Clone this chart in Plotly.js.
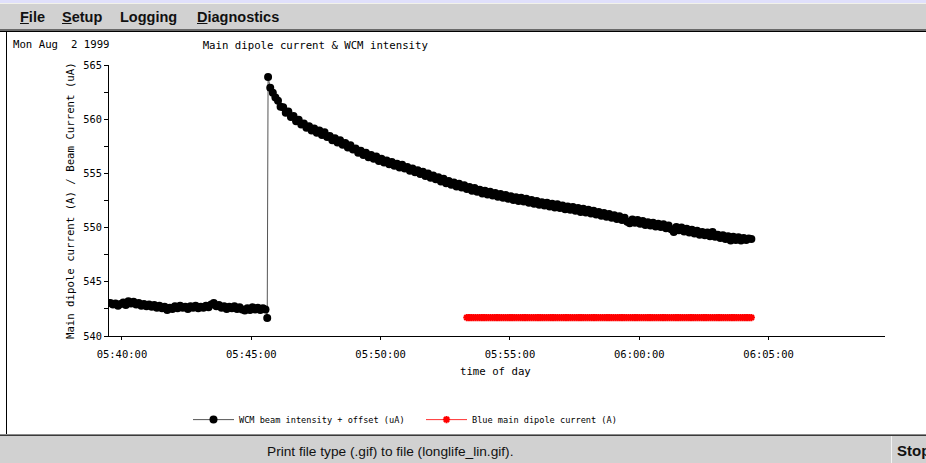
<!DOCTYPE html>
<html>
<head>
<meta charset="utf-8">
<script src="https://cdn.plot.ly/plotly-3.0.1.min.js"></script>
<style>
  html, body { margin:0; padding:0; width:926px; height:463px; overflow:hidden; background:#ffffff; }
  .abs { position:absolute; }
  #strip { left:0; top:0; width:926px; height:3px; background:#e0e0fb; }
  #menubar { left:0; top:3px; width:926px; height:25px; background:#d1d1d1; border-top:1px solid #f2f2ea; }
  #menuline1 { left:0; top:29px; width:926px; height:2px; background:#6a6a6a; }
  #menuline2 { left:0; top:31px; width:926px; height:1px; background:#000; }
  #panelborder { left:6px; top:31px; width:1px; height:404px; background:#000; }
  .menu { font-family:"Liberation Sans", Arial, sans-serif; font-weight:bold; font-size:14.5px; line-height:14.5px; color:#111; top:9.5px; white-space:nowrap; }
  #status1 { left:0; top:434px; width:926px; height:1px; background:#8a8a8a; }
  #status2 { left:0; top:435px; width:926px; height:1px; background:#3a3a3a; }
  #statusbar { left:0; top:436px; width:926px; height:27px; background:#d1d1d1; }
  #stopbtn { left:891px; top:436px; width:35px; height:27px; border-left:1px solid #f4f4f4; }
  #statustext { left:267px; top:444.5px; font-family:"Liberation Sans", Arial, sans-serif; font-size:13.7px; line-height:13.7px; color:#111; white-space:nowrap; }
  #stoptext { left:897px; top:443.3px; font-family:"Liberation Sans", Arial, sans-serif; font-weight:bold; font-size:15px; line-height:15px; color:#111; white-space:nowrap; }
  #chart { position:absolute; left:0; top:0; width:926px; height:463px; }
</style>
</head>
<body>
<div class="abs" id="strip"></div>
<div class="abs" id="menubar"></div>
<div class="abs" id="menuline1"></div>
<div class="abs" id="menuline2"></div>
<div class="abs menu" style="left:20px"><u>F</u>ile</div>
<div class="abs menu" style="left:62px"><u>S</u>etup</div>
<div class="abs menu" style="left:120px">Logging</div>
<div class="abs menu" style="left:197px"><u>D</u>iagnostics</div>
<div class="abs" id="panelborder"></div>
<div class="abs" id="status1"></div>
<div class="abs" id="status2"></div>
<div class="abs" id="statusbar"></div>
<div class="abs" id="stopbtn"></div>
<div class="abs" id="statustext">Print file type (.gif) to file (longlife_lin.gif).</div>
<div class="abs" id="stoptext">Stop</div>
<div id="chart"></div>
<script>
// ---- data ----
const day = '1999-08-02';
const chartTitle = 'Main dipole current & WCM intensity';
const dateLabel = 'Mon Aug\u00a0\u00a02 1999';
const xAxisTitle = 'time of day';
const yAxisTitle = 'Main dipole current (A) / Beam Current (uA)';
const wcmName = 'WCM beam intensity + offset (uA)';
const dipoleName = 'Blue main dipole current (A)';

// WCM samples before the injection step
const wcmTimesBefore = [
 '05:39:33','05:39:39','05:39:45','05:39:51','05:39:57',
 '05:40:03','05:40:09','05:40:15','05:40:21','05:40:27','05:40:33','05:40:39','05:40:45','05:40:51','05:40:57',
 '05:41:03','05:41:09','05:41:15','05:41:21','05:41:27','05:41:33','05:41:39','05:41:45','05:41:51','05:41:57',
 '05:42:03','05:42:09','05:42:15','05:42:21','05:42:27','05:42:33','05:42:39','05:42:45','05:42:51','05:42:57',
 '05:43:03','05:43:09','05:43:15','05:43:21','05:43:27','05:43:33','05:43:39','05:43:45','05:43:51','05:43:57',
 '05:44:03','05:44:09','05:44:15','05:44:21','05:44:27','05:44:33','05:44:39','05:44:45','05:44:51','05:44:57',
 '05:45:03','05:45:09','05:45:15','05:45:21','05:45:27','05:45:33','05:45:37'
];
const wcmValuesBefore = [
 543.05,542.9,543.0,542.8,542.95,
 543.1,542.85,543.2,543.0,543.15,542.9,543.05,542.8,542.95,542.75,
 542.9,542.7,542.85,542.6,542.8,542.55,542.7,542.4,542.6,542.5,
 542.75,542.55,542.8,542.6,542.7,542.5,542.75,542.6,542.8,542.55,
 542.7,542.6,542.8,542.65,542.9,543.05,542.75,542.85,542.6,542.75,
 542.5,542.7,542.55,542.75,542.5,542.65,542.45,542.35,542.55,542.4,
 542.65,542.45,542.6,542.4,542.55,542.45,541.65
];
// WCM samples after the injection step
const wcmTimesAfter = [
 '05:45:39','05:45:44','05:45:50','05:45:56',
 '05:46:02','05:46:08','05:46:14','05:46:20','05:46:26','05:46:32','05:46:38','05:46:44','05:46:50','05:46:56',
 '05:47:02','05:47:08','05:47:14','05:47:20','05:47:26','05:47:32','05:47:38','05:47:44','05:47:50','05:47:56',
 '05:48:02','05:48:08','05:48:14','05:48:20','05:48:26','05:48:32','05:48:38','05:48:44','05:48:50','05:48:56',
 '05:49:02','05:49:08','05:49:14','05:49:20','05:49:26','05:49:32','05:49:38','05:49:44','05:49:50','05:49:56',
 '05:50:02','05:50:08','05:50:14','05:50:20','05:50:26','05:50:32','05:50:38','05:50:44','05:50:50','05:50:56',
 '05:51:02','05:51:08','05:51:14','05:51:20','05:51:26','05:51:32','05:51:38','05:51:44','05:51:50','05:51:56',
 '05:52:02','05:52:08','05:52:14','05:52:20','05:52:26','05:52:32','05:52:38','05:52:44','05:52:50','05:52:56',
 '05:53:02','05:53:08','05:53:14','05:53:20','05:53:26','05:53:32','05:53:38','05:53:44','05:53:50','05:53:56',
 '05:54:02','05:54:08','05:54:14','05:54:20','05:54:26','05:54:32','05:54:38','05:54:44','05:54:50','05:54:56',
 '05:55:02','05:55:08','05:55:14','05:55:20','05:55:26','05:55:32','05:55:38','05:55:44','05:55:50','05:55:56',
 '05:56:02','05:56:08','05:56:14','05:56:20','05:56:26','05:56:32','05:56:38','05:56:44','05:56:50','05:56:56',
 '05:57:02','05:57:08','05:57:14','05:57:20','05:57:26','05:57:32','05:57:38','05:57:44','05:57:50','05:57:56',
 '05:58:02','05:58:08','05:58:14','05:58:20','05:58:26','05:58:32','05:58:38','05:58:44','05:58:50','05:58:56',
 '05:59:02','05:59:08','05:59:14','05:59:20','05:59:26','05:59:32','05:59:38','05:59:44','05:59:50','05:59:56',
 '06:00:02','06:00:08','06:00:14','06:00:20','06:00:26','06:00:32','06:00:38','06:00:44','06:00:50','06:00:56',
 '06:01:02','06:01:08','06:01:14','06:01:20','06:01:26','06:01:32','06:01:38','06:01:44','06:01:50','06:01:56',
 '06:02:02','06:02:08','06:02:14','06:02:20','06:02:26','06:02:32','06:02:38','06:02:44','06:02:50','06:02:56',
 '06:03:02','06:03:08','06:03:14','06:03:20','06:03:26','06:03:32','06:03:38','06:03:44','06:03:50','06:03:56',
 '06:04:02','06:04:08','06:04:14','06:04:20'
];
const wcmValuesAfter = [
 563.9,562.9,562.45,562.0,
 561.7,561.15,561.1,560.6,560.7,560.2,560.3,559.8,559.95,559.5,
 559.6,559.2,559.35,558.95,559.15,558.75,558.95,558.55,558.8,558.35,
 558.45,558.05,558.25,557.85,558.05,557.65,557.8,557.4,557.6,557.2,
 557.3,556.9,557.1,556.7,556.9,556.5,556.7,556.35,556.55,556.15,
 556.35,556.0,556.2,555.85,556.05,555.7,555.9,555.55,555.8,555.45,
 555.6,555.25,555.45,555.1,555.3,554.95,555.15,554.75,555.0,554.6,
 554.8,554.45,554.65,554.25,554.5,554.1,554.3,553.95,554.15,553.8,
 554.05,553.7,553.9,553.55,553.75,553.4,553.65,553.3,553.5,553.15,
 553.4,553.05,553.3,552.95,553.2,552.85,553.1,552.75,553.0,552.65,
 552.9,552.55,552.8,552.45,552.75,552.4,552.65,552.3,552.55,552.2,
 552.45,552.1,552.35,552.05,552.3,551.95,552.2,551.85,552.15,551.8,
 552.05,551.7,551.95,551.65,551.9,551.55,551.8,551.45,551.75,551.4,
 551.65,551.3,551.55,551.2,551.45,551.1,551.35,551.0,551.25,550.9,
 551.15,550.8,551.05,550.7,550.9,550.55,550.4,550.75,550.45,550.7,
 550.35,550.6,550.25,550.5,550.2,550.45,550.1,550.35,550.05,550.3,
 549.95,550.2,549.85,549.6,550.05,549.75,550.0,549.65,549.9,549.55,
 549.8,549.45,549.7,549.35,549.6,549.3,549.55,549.2,549.6,549.15,
 549.35,549.05,549.3,548.95,549.2,548.8,549.15,548.85,549.1,548.8,
 549.05,548.85,549.0,548.95
];

const dipoleTimes = [
 '05:53:20','05:53:25','05:53:30','05:53:35','05:53:40','05:53:45','05:53:50','05:53:55',
 '05:54:00','05:54:05','05:54:10','05:54:15','05:54:20','05:54:25','05:54:30','05:54:35','05:54:40','05:54:45','05:54:50','05:54:55',
 '05:55:00','05:55:05','05:55:10','05:55:15','05:55:20','05:55:25','05:55:30','05:55:35','05:55:40','05:55:45','05:55:50','05:55:55',
 '05:56:00','05:56:05','05:56:10','05:56:15','05:56:20','05:56:25','05:56:30','05:56:35','05:56:40','05:56:45','05:56:50','05:56:55',
 '05:57:00','05:57:05','05:57:10','05:57:15','05:57:20','05:57:25','05:57:30','05:57:35','05:57:40','05:57:45','05:57:50','05:57:55',
 '05:58:00','05:58:05','05:58:10','05:58:15','05:58:20','05:58:25','05:58:30','05:58:35','05:58:40','05:58:45','05:58:50','05:58:55',
 '05:59:00','05:59:05','05:59:10','05:59:15','05:59:20','05:59:25','05:59:30','05:59:35','05:59:40','05:59:45','05:59:50','05:59:55',
 '06:00:00','06:00:05','06:00:10','06:00:15','06:00:20','06:00:25','06:00:30','06:00:35','06:00:40','06:00:45','06:00:50','06:00:55',
 '06:01:00','06:01:05','06:01:10','06:01:15','06:01:20','06:01:25','06:01:30','06:01:35','06:01:40','06:01:45','06:01:50','06:01:55',
 '06:02:00','06:02:05','06:02:10','06:02:15','06:02:20','06:02:25','06:02:30','06:02:35','06:02:40','06:02:45','06:02:50','06:02:55',
 '06:03:00','06:03:05','06:03:10','06:03:15','06:03:20','06:03:25','06:03:30','06:03:35','06:03:40','06:03:45','06:03:50','06:03:55',
 '06:04:00','06:04:05','06:04:10','06:04:15','06:04:20'
];
const dipoleValues = [
 541.7,541.7,541.7,541.7,541.7,541.7,541.7,541.7,
 541.7,541.7,541.7,541.7,541.7,541.7,541.7,541.7,541.7,541.7,541.7,541.7,
 541.7,541.7,541.7,541.7,541.7,541.7,541.7,541.7,541.7,541.7,541.7,541.7,
 541.7,541.7,541.7,541.7,541.7,541.7,541.7,541.7,541.7,541.7,541.7,541.7,
 541.7,541.7,541.7,541.7,541.7,541.7,541.7,541.7,541.7,541.7,541.7,541.7,
 541.7,541.7,541.7,541.7,541.7,541.7,541.7,541.7,541.7,541.7,541.7,541.7,
 541.7,541.7,541.7,541.7,541.7,541.7,541.7,541.7,541.7,541.7,541.7,541.7,
 541.7,541.7,541.7,541.7,541.7,541.7,541.7,541.7,541.7,541.7,541.7,541.7,
 541.7,541.7,541.7,541.7,541.7,541.7,541.7,541.7,541.7,541.7,541.7,541.7,
 541.7,541.7,541.7,541.7,541.7,541.7,541.7,541.7,541.7,541.7,541.7,541.7,
 541.7,541.7,541.7,541.7,541.7,541.7,541.7,541.7,541.7,541.7,541.7,541.7,
 541.7,541.7,541.7,541.7,541.7
];

const xRange = ['05:39:30', '06:09:30'];
const xTick0 = '05:40:00';
const yRange = [540, 565];

// ---- chart ----
const W = 926, H = 463;
const m = {l:109, r:41, t:65.3, b:127.4};
const pw = W - m.l - m.r, ph = H - m.t - m.b;
const px = x => (x - m.l) / pw;
const py = y => (H - m.b - y) / ph;
const stamp = t => day + ' ' + t;
const mono = '"DejaVu Sans Mono", "Liberation Mono", monospace';

const wcmTimes = wcmTimesBefore.concat(wcmTimesAfter);
const wcmValues = wcmValuesBefore.concat(wcmValuesAfter);

const traces = [
 {
  type:'scatter', mode:'lines+markers', name:wcmName,
  x: wcmTimes.map(stamp), y: wcmValues,
  line:{color:'#555555', width:1},
  marker:{color:'#000000', size:8, line:{width:0}}
 },
 {
  type:'scatter', mode:'lines+markers', name:dipoleName,
  x: dipoleTimes.map(stamp), y: dipoleValues,
  line:{color:'#ff3030', width:1},
  marker:{symbol:'asterisk-open', color:'#ff0000', size:6, line:{color:'#ff0000', width:2}}
 }
];

const layout = {
 width:W, height:H,
 margin:m,
 paper_bgcolor:'rgba(0,0,0,0)', plot_bgcolor:'rgba(0,0,0,0)',
 font:{family:mono, size:10.5, color:'#000'},
 showlegend:true,
 title:{text:chartTitle, x:202.7/W, xanchor:'left', xref:'container', y:1-45/H, yanchor:'middle', yref:'container', font:{family:mono, size:10.7, color:'#000'}},
 xaxis:{
  type:'date', range:xRange.map(stamp), tick0:stamp(xTick0), dtick:300000, tickformat:'%H:%M:%S',
  showline:true, linecolor:'#000', linewidth:1, showgrid:false, zeroline:false,
  ticks:'outside', ticklen:3, tickwidth:1, tickcolor:'#000', ticklabelstandoff:5,
  tickfont:{family:mono, size:10.5, color:'#000'}, fixedrange:true
 },
 xaxis2:{
  type:'date', overlaying:'x', anchor:'y', side:'bottom', range:xRange.map(stamp), tick0:stamp(xTick0), dtick:300000,
  showline:false, showgrid:false, zeroline:false, showticklabels:false,
  ticks:'inside', ticklen:3, tickwidth:1, tickcolor:'#000'
 },
 yaxis:{
  range:yRange, tick0:540, dtick:5,
  showline:true, linecolor:'#000', linewidth:1, showgrid:false, zeroline:false,
  ticks:'outside', ticklen:4, tickwidth:1, tickcolor:'#000',
  minor:{dtick:2.5, ticks:'outside', ticklen:4, tickwidth:1, tickcolor:'#000', showgrid:false},
  tickfont:{family:mono, size:10.3, color:'#000'}, fixedrange:true
 },
 legend:{
  orientation:'h', x:px(188), xanchor:'left', y:py(419), yanchor:'middle',
  font:{family:mono, size:8.6, color:'#000'}, bgcolor:'rgba(0,0,0,0)', borderwidth:0,
  itemwidth:41, entrywidth:177, entrywidthmode:'pixels', traceorder:'normal'
 },
 annotations:[
  {text:dateLabel, xref:'paper', yref:'paper', x:px(10.7), y:py(45), xanchor:'left', yanchor:'middle', showarrow:false, font:{family:mono, size:10.7, color:'#000'}},
  {text:xAxisTitle, xref:'paper', yref:'paper', x:px(495), y:py(371), xanchor:'center', yanchor:'middle', showarrow:false, font:{family:mono, size:10.7, color:'#000'}},
  {text:yAxisTitle, xref:'paper', yref:'paper', x:px(70), y:py(201), xanchor:'center', yanchor:'middle', textangle:-90, showarrow:false, font:{family:mono, size:10.7, color:'#000'}}
 ]
};

Plotly.newPlot('chart', traces, layout, {displayModeBar:false, staticPlot:true});
</script>
</body>
</html>
